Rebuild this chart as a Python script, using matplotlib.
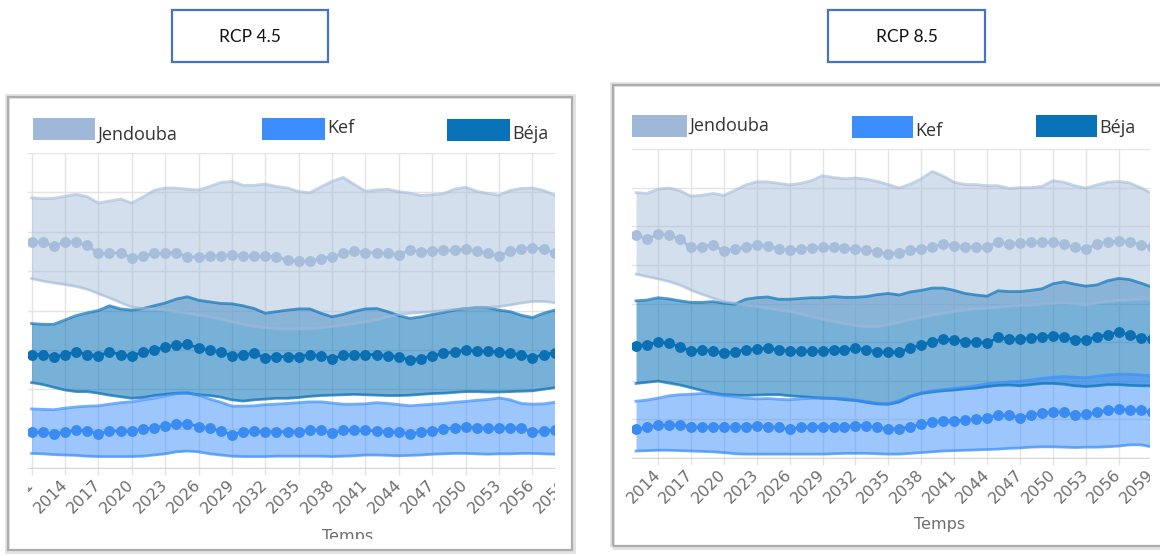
import matplotlib
matplotlib.use("Agg")
import matplotlib.pyplot as plt
from matplotlib.patches import Rectangle

W, H = 1160, 556

# ---- data (unitless; one grid step = 1) ----
years_45 = list(range(2011, 2059))
years_85 = list(range(2012, 2060))
tick_years = list(range(2011, 2060, 3))
series_names = ["Jendouba", "Kef", "Béja"]
panel_titles = ["RCP 4.5", "RCP 8.5"]
x_title = "Temps"

jend_up_45 = [6.86, 6.84, 6.85, 6.90, 6.95, 6.89, 6.73, 6.78, 6.83, 6.73, 6.88, 7.05,
              7.11, 7.11, 7.08, 7.06, 7.15, 7.25, 7.28, 7.18, 7.18, 7.21, 7.15, 7.11,
              7.02, 6.99, 7.14, 7.28, 7.38, 7.20, 7.03, 7.06, 7.08, 7.02, 6.98, 6.92,
              6.94, 6.97, 7.08, 7.13, 7.03, 6.97, 6.93, 7.05, 7.10, 7.11, 7.05, 6.93]
jend_mean_45 = [5.74, 5.74, 5.63, 5.74, 5.74, 5.66, 5.45, 5.45, 5.47, 5.34, 5.38, 5.45,
                5.46, 5.47, 5.36, 5.36, 5.38, 5.39, 5.42, 5.39, 5.38, 5.39, 5.36, 5.28,
                5.25, 5.25, 5.32, 5.36, 5.45, 5.51, 5.47, 5.47, 5.45, 5.42, 5.53, 5.49,
                5.51, 5.53, 5.53, 5.56, 5.51, 5.45, 5.38, 5.51, 5.56, 5.59, 5.56, 5.47]
jend_low_45 = [4.81, 4.75, 4.70, 4.66, 4.61, 4.54, 4.43, 4.32, 4.20, 4.09, 4.05, 4.04,
               4.01, 3.97, 3.93, 3.88, 3.84, 3.78, 3.71, 3.65, 3.60, 3.56, 3.54, 3.53,
               3.54, 3.54, 3.56, 3.59, 3.63, 3.67, 3.71, 3.76, 3.84, 3.90, 3.93, 3.95,
               3.97, 4.00, 4.03, 4.05, 4.06, 4.08, 4.10, 4.14, 4.19, 4.23, 4.23, 4.20]
beja_up_45 = [3.67, 3.65, 3.65, 3.76, 3.87, 3.94, 4.00, 4.12, 4.04, 4.01, 4.05, 4.12,
              4.19, 4.29, 4.35, 4.26, 4.22, 4.18, 4.17, 4.12, 4.05, 3.93, 3.97, 4.01,
              4.04, 4.04, 3.93, 3.84, 3.90, 3.98, 4.04, 4.05, 3.97, 3.87, 3.80, 3.84,
              3.90, 3.95, 4.01, 4.05, 4.07, 4.07, 4.01, 3.97, 3.88, 3.82, 3.93, 4.01]
beja_mean_45 = [2.88, 2.88, 2.82, 2.88, 2.95, 2.88, 2.85, 2.95, 2.88, 2.85, 2.94, 2.99,
                3.08, 3.12, 3.14, 3.05, 2.99, 2.95, 2.85, 2.88, 2.91, 2.80, 2.83, 2.83,
                2.83, 2.88, 2.85, 2.78, 2.86, 2.88, 2.88, 2.88, 2.85, 2.83, 2.74, 2.78,
                2.85, 2.91, 2.95, 2.99, 2.97, 2.97, 2.95, 2.91, 2.88, 2.80, 2.88, 2.93]
beja_low_45 = [2.17, 2.12, 2.05, 1.98, 1.94, 1.94, 1.90, 1.85, 1.81, 1.77, 1.79, 1.84,
               1.87, 1.90, 1.90, 1.86, 1.84, 1.80, 1.73, 1.70, 1.73, 1.75, 1.77, 1.77,
               1.79, 1.82, 1.84, 1.85, 1.86, 1.87, 1.86, 1.85, 1.84, 1.84, 1.85, 1.87,
               1.89, 1.90, 1.92, 1.94, 1.94, 1.93, 1.93, 1.94, 1.95, 1.96, 2.00, 2.04]
kef_up_45 = [1.50, 1.49, 1.48, 1.52, 1.55, 1.57, 1.58, 1.62, 1.66, 1.68, 1.73, 1.77,
             1.83, 1.89, 1.92, 1.85, 1.75, 1.67, 1.57, 1.57, 1.58, 1.61, 1.62, 1.64,
             1.66, 1.68, 1.68, 1.65, 1.62, 1.62, 1.63, 1.66, 1.64, 1.61, 1.58, 1.60,
             1.62, 1.64, 1.67, 1.69, 1.72, 1.74, 1.78, 1.73, 1.64, 1.62, 1.63, 1.67]
kef_mean_45 = [0.91, 0.91, 0.87, 0.91, 0.96, 0.94, 0.87, 0.94, 0.94, 0.94, 0.99, 1.02,
               1.07, 1.11, 1.13, 1.05, 1.01, 0.94, 0.85, 0.91, 0.94, 0.92, 0.92, 0.92,
               0.92, 0.96, 0.96, 0.88, 0.96, 0.96, 0.96, 0.94, 0.92, 0.91, 0.87, 0.91,
               0.94, 0.99, 1.02, 1.05, 1.02, 1.02, 1.01, 1.02, 1.02, 0.91, 0.94, 0.96]
kef_low_45 = [0.37, 0.36, 0.34, 0.33, 0.32, 0.30, 0.29, 0.29, 0.29, 0.29, 0.30, 0.33,
              0.36, 0.41, 0.43, 0.41, 0.36, 0.33, 0.30, 0.29, 0.29, 0.29, 0.30, 0.30,
              0.30, 0.30, 0.30, 0.29, 0.30, 0.31, 0.33, 0.33, 0.32, 0.31, 0.32, 0.33,
              0.35, 0.36, 0.37, 0.37, 0.36, 0.35, 0.36, 0.36, 0.37, 0.37, 0.36, 0.35]

jend_up_85 = [6.87, 6.85, 6.96, 6.99, 6.92, 6.78, 6.80, 6.85, 6.80, 6.93, 7.07, 7.15,
              7.15, 7.11, 7.07, 7.11, 7.18, 7.31, 7.26, 7.23, 7.25, 7.22, 7.16, 7.08,
              6.99, 7.09, 7.23, 7.42, 7.30, 7.14, 7.08, 7.08, 7.05, 7.05, 6.98, 7.00,
              7.00, 7.03, 7.18, 7.14, 7.05, 6.99, 7.07, 7.14, 7.16, 7.12, 7.00, 6.85]
jend_mean_85 = [5.78, 5.67, 5.79, 5.78, 5.67, 5.45, 5.47, 5.52, 5.36, 5.41, 5.47, 5.52,
                5.50, 5.41, 5.39, 5.41, 5.43, 5.47, 5.45, 5.43, 5.41, 5.39, 5.33, 5.29,
                5.30, 5.39, 5.41, 5.47, 5.54, 5.50, 5.47, 5.45, 5.47, 5.59, 5.54, 5.57,
                5.59, 5.59, 5.59, 5.54, 5.45, 5.41, 5.54, 5.59, 5.62, 5.59, 5.52, 5.45]
jend_low_85 = [4.76, 4.70, 4.64, 4.57, 4.48, 4.35, 4.24, 4.14, 4.05, 4.01, 3.96, 3.92,
               3.88, 3.83, 3.79, 3.73, 3.66, 3.59, 3.53, 3.48, 3.43, 3.40, 3.40, 3.45,
               3.51, 3.58, 3.64, 3.70, 3.75, 3.79, 3.83, 3.86, 3.88, 3.90, 3.93, 3.95,
               3.96, 3.98, 4.00, 4.01, 3.99, 3.96, 4.01, 4.05, 4.08, 4.09, 4.11, 4.12]
beja_up_85 = [4.07, 4.09, 4.15, 4.12, 4.07, 4.03, 4.03, 4.05, 4.01, 3.98, 4.11, 4.15,
              4.17, 4.11, 4.11, 4.13, 4.15, 4.15, 4.18, 4.16, 4.16, 4.18, 4.23, 4.26,
              4.22, 4.30, 4.34, 4.40, 4.40, 4.34, 4.26, 4.22, 4.19, 4.33, 4.31, 4.31,
              4.34, 4.38, 4.51, 4.56, 4.50, 4.45, 4.48, 4.59, 4.65, 4.62, 4.53, 4.43]
beja_mean_85 = [2.91, 2.93, 3.00, 2.97, 2.88, 2.77, 2.80, 2.77, 2.71, 2.75, 2.80, 2.82,
                2.84, 2.80, 2.77, 2.77, 2.77, 2.77, 2.80, 2.80, 2.84, 2.80, 2.75, 2.74,
                2.75, 2.84, 2.93, 3.01, 3.08, 3.06, 3.01, 3.00, 2.97, 3.12, 3.08, 3.08,
                3.10, 3.14, 3.17, 3.14, 3.06, 3.06, 3.14, 3.19, 3.26, 3.19, 3.10, 3.08]
beja_low_85 = [1.93, 1.96, 1.99, 1.94, 1.89, 1.82, 1.75, 1.68, 1.64, 1.63, 1.62, 1.63,
               1.64, 1.64, 1.61, 1.59, 1.57, 1.55, 1.54, 1.51, 1.49, 1.44, 1.40, 1.39,
               1.45, 1.59, 1.67, 1.71, 1.74, 1.76, 1.79, 1.81, 1.85, 1.88, 1.89, 1.87,
               1.90, 1.93, 1.93, 1.91, 1.87, 1.85, 1.87, 1.90, 1.90, 1.88, 1.87, 1.87]
kef_up_85 = [1.47, 1.50, 1.55, 1.61, 1.64, 1.65, 1.67, 1.66, 1.62, 1.59, 1.55, 1.53,
             1.54, 1.52, 1.51, 1.53, 1.55, 1.55, 1.55, 1.54, 1.50, 1.46, 1.42, 1.40,
             1.49, 1.61, 1.69, 1.74, 1.77, 1.80, 1.83, 1.87, 1.92, 1.95, 1.97, 1.99,
             2.02, 2.06, 2.09, 2.11, 2.09, 2.08, 2.12, 2.15, 2.17, 2.17, 2.15, 2.13]
kef_mean_85 = [0.75, 0.79, 0.85, 0.85, 0.85, 0.81, 0.79, 0.81, 0.81, 0.79, 0.81, 0.84,
               0.81, 0.79, 0.75, 0.79, 0.81, 0.81, 0.81, 0.81, 0.84, 0.84, 0.79, 0.76,
               0.75, 0.81, 0.87, 0.92, 0.96, 0.96, 0.98, 1.01, 1.04, 1.11, 1.11, 1.04,
               1.11, 1.16, 1.20, 1.18, 1.11, 1.13, 1.18, 1.24, 1.27, 1.24, 1.24, 1.18]
kef_low_85 = [0.18, 0.19, 0.20, 0.20, 0.19, 0.18, 0.17, 0.16, 0.14, 0.11, 0.10, 0.10,
              0.10, 0.10, 0.10, 0.10, 0.10, 0.10, 0.11, 0.12, 0.12, 0.12, 0.11, 0.10,
              0.10, 0.12, 0.14, 0.16, 0.18, 0.19, 0.20, 0.21, 0.22, 0.23, 0.25, 0.26,
              0.28, 0.29, 0.29, 0.28, 0.27, 0.28, 0.28, 0.29, 0.31, 0.34, 0.34, 0.29]

# ---- styles ----
JEND, KEF, BEJA = "#9fb8d8", "#3b8efb", "#0a72b8"
JEND_DOT, KEF_DOT, BEJA_DOT = "#a6bedb", "#3a8bf2", "#0a6fb3"
GRID = "#e4e4e4"
TXT = "#6e6e6e"


def fbox(x0, y0, x1, y1):
    """pixel box (top-left origin) -> figure fraction [l, b, w, h]"""
    return [x0 / W, 1 - y1 / H, (x1 - x0) / W, (y1 - y0) / H]


def frect(fig, x0, y0, x1, y1, **kw):
    l, b, w, h = fbox(x0, y0, x1, y1)
    r = Rectangle((l, b), w, h, transform=fig.transFigure, **kw)
    fig.patches.append(r)
    return r


def ftext(fig, x, y, s, **kw):
    return fig.text(x / W, 1 - y / H, s, **kw)


def draw_band(ax, x, low, mean, up, color, dot_color, fill_alpha, edge_alpha):
    ax.fill_between(x, low, up, color=color, alpha=fill_alpha, lw=0)
    ax.plot(x, up, color=color, alpha=edge_alpha, lw=2)
    ax.plot(x, low, color=color, alpha=edge_alpha, lw=2)
    ax.plot(x, mean, color=dot_color, lw=2, marker="o", ms=6.8,
            mec=dot_color, mfc=dot_color)


def setup_axes(ax, xlim, label_xy):
    ax.set_xticks(tick_years)
    ax.set_xticklabels([str(y) for y in tick_years])
    ax.set_yticks(range(0, 9))
    # limits after the ticks, set_xticks would widen them
    ax.set_xlim(*xlim)
    ax.set_ylim(0, 8)
    ax.tick_params(axis="y", length=0, labelleft=False)
    ax.tick_params(axis="x", length=5, width=1, color=GRID, pad=5,
                   labelsize=11.5, labelcolor=TXT)
    for lab in ax.get_xticklabels():
        lab.set_rotation(45)
        lab.set_ha("right")
        lab.set_va("center")
        lab.set_rotation_mode("anchor")
    ax.grid(True, color=GRID, lw=1)
    ax.set_axisbelow(True)
    for s in ["left", "right", "top"]:
        ax.spines[s].set_visible(False)
    ax.spines["bottom"].set_color("#d6d6d6")
    ax.set_xlabel(x_title, fontsize=11.5, color=TXT)
    ax.xaxis.set_label_coords(*label_xy)
    ax.xaxis.label.set_va("baseline")


fig = plt.figure(figsize=(W / 100, H / 100), dpi=100)

# draw order: Béja at the back, then Kef, Jendouba on top
# ---- RCP 4.5 ----
ax1 = fig.add_axes(fbox(28, 153, 567.5, 468))
draw_band(ax1, years_45, beja_low_45, beja_mean_45, beja_up_45, BEJA, BEJA_DOT, 0.55, 0.7)
draw_band(ax1, years_45, kef_low_45, kef_mean_45, kef_up_45, KEF, KEF_DOT, 0.5, 0.7)
draw_band(ax1, years_45, jend_low_45, jend_mean_45, jend_up_45, JEND, JEND_DOT, 0.45, 0.6)
setup_axes(ax1, (2010.68, 2059.15), (0.593, -0.232))

# ---- RCP 8.5 ----
ax2 = fig.add_axes(fbox(632, 149, 1152.7, 458))
draw_band(ax2, years_85, beja_low_85, beja_mean_85, beja_up_85, BEJA, BEJA_DOT, 0.55, 0.7)
draw_band(ax2, years_85, kef_low_85, kef_mean_85, kef_up_85, KEF, KEF_DOT, 0.5, 0.7)
draw_band(ax2, years_85, jend_low_85, jend_mean_85, jend_up_85, JEND, JEND_DOT, 0.45, 0.6)
setup_axes(ax2, (2011.63, 2059.1), (0.5915, -0.23))

# ---- screenshot crop edges (white masks) ----
mask = dict(facecolor="white", edgecolor="none", zorder=3)
frect(fig, 0, 99, 28, 556, **mask)
frect(fig, 555, 99, 571, 548, **mask)
frect(fig, 0, 539, 571, 556, **mask)
frect(fig, 1150, 87, 1160, 544, **mask)

# ---- panel frames with soft shadow ----
for (x0, y0, x1, y1) in [(8, 97, 572, 550), (613, 85, 1175, 546)]:
    frect(fig, x0 - 1, y0 - 1, x1 + 1, y1 + 1, fill=False, edgecolor="#e2e2e2", lw=3.5, zorder=4)
    frect(fig, x0, y0, x1, y1, fill=False, edgecolor="#adadad", lw=1.6, zorder=5)

# ---- title boxes ----
for (x0, x1, title) in [(172, 328, panel_titles[0]), (828, 985, panel_titles[1])]:
    frect(fig, x0, 10, x1, 62, facecolor="white", edgecolor="#4472c4", lw=1.6, zorder=5)
    ftext(fig, (x0 + x1) / 2, 37, title, ha="center", va="center",
          fontsize=12.5, color="#111111", family="Lato", zorder=6)

# ---- legends ----
legend_colors = [JEND, KEF, BEJA]
legend_45 = [(33, 95, 118, 140, 140), (262, 325, 118, 140, 133), (447, 510, 119, 141, 139)]
legend_85 = [(632, 687, 115, 137, 131), (852, 913, 116, 138, 136), (1036, 1097, 115, 137, 133)]
for items in (legend_45, legend_85):
    for name, color, (x0, x1, y0, y1, base) in zip(series_names, legend_colors, items):
        frect(fig, x0, y0, x1, y1, facecolor=color, edgecolor="none", zorder=5)
        ftext(fig, x1 + 2, base, name, ha="left", va="baseline", fontsize=13,
              color="#333333", family="Open Sans", zorder=6)

fig.savefig("out.png", dpi=100, facecolor="white")
